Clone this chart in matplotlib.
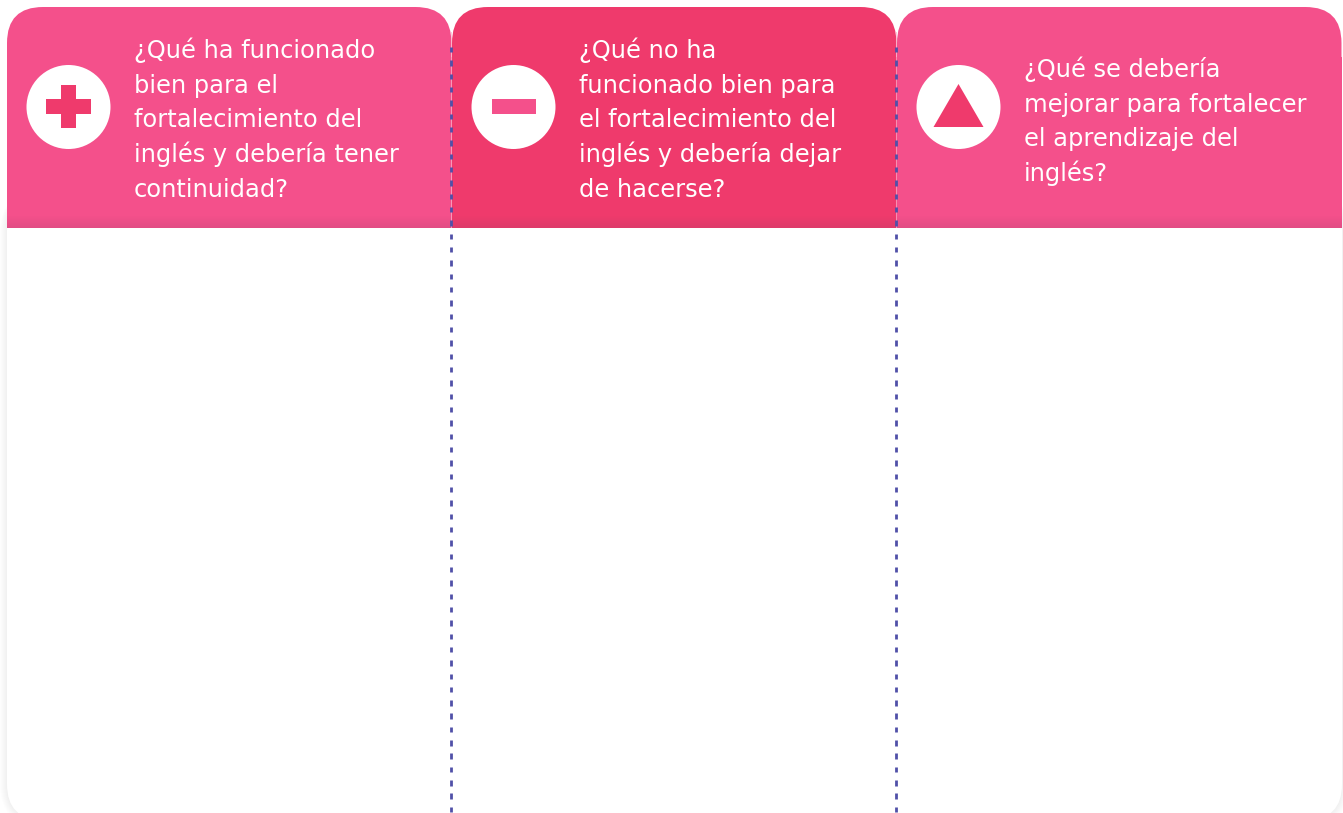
import matplotlib
matplotlib.use("Agg")
import matplotlib.pyplot as plt
import numpy as np
from matplotlib.patches import Circle, FancyBboxPatch, Polygon, Rectangle

# Header questions, one list per column, broken as in the picture
col1_lines = ["¿Qué ha funcionado", "bien para el", "fortalecimiento del",
              "inglés y debería tener", "continuidad?"]
col2_lines = ["¿Qué no ha", "funcionado bien para", "el fortalecimiento del",
              "inglés y debería dejar", "de hacerse?"]
col3_lines = ["¿Qué se debería", "mejorar para fortalecer",
              "el aprendizaje del", "inglés?"]
columns = [col1_lines, col2_lines, col3_lines]
icons = ["plus", "minus", "triangle"]

PINK = "#F4508B"
RED = "#EF3A6C"
DOTS = "#5050A8"
header_colors = [PINK, RED, PINK]

W, H = 1343, 813
col_left = [7, 452, 897]
col_w = 444.5
top, head_bottom = 7, 228
radius = 36
line_step = 34.7

plt.rcParams['font.family'] = ['DejaVu Sans']

fig = plt.figure(figsize=(W / 100, H / 100), dpi=100)
ax = fig.add_axes([0, 0, 1, 1])
ax.set_xlim(0, W)
ax.set_ylim(H, 0)
ax.axis('off')

# Soft shadow down the lower part of the card
for i in range(7, 0, -1):
    ax.add_patch(FancyBboxPatch((7 - i, 190), W - 8 + 2 * i, 630 + i,
                                boxstyle="round,pad=0,rounding_size=%d" % (radius + i),
                                fc="#000000", ec="none", alpha=0.009, zorder=1))

# White card, rounded at the bottom corners (its foot runs past the picture)
ax.add_patch(FancyBboxPatch((7, 100), W - 8, 720,
                            boxstyle="round,pad=0,rounding_size=%d" % radius,
                            fc="white", ec="none", zorder=2))

for x0, color, lines, icon in zip(col_left, header_colors, columns, icons):
    # Header shape: rounded top, square bottom
    ax.add_patch(FancyBboxPatch((x0, top), col_w, 100,
                                boxstyle="round,pad=0,rounding_size=%d" % radius,
                                fc=color, ec="none", zorder=3))
    ax.add_patch(Rectangle((x0, top + 50), col_w, head_bottom - top - 50,
                           fc=color, ec="none", zorder=3))
    # Darker fade at the foot of the header
    for j in range(13):
        ax.add_patch(Rectangle((x0, head_bottom - 13 + j), col_w, 1,
                               fc="#7A3A60", ec="none", alpha=0.012 * j, zorder=4))

    # Icon
    cx, cy = x0 + 61.5, 107
    ax.add_patch(Circle((cx, cy), 42, fc="white", ec="none", zorder=5))
    if icon == "plus":
        ax.add_patch(Rectangle((cx - 22.5, cy - 7.5), 45, 15, fc=RED, ec="none", zorder=6))
        ax.add_patch(Rectangle((cx - 7.5, cy - 22), 15, 43, fc=RED, ec="none", zorder=6))
    elif icon == "minus":
        ax.add_patch(Rectangle((cx - 22, cy - 7.5), 44, 15, fc=PINK, ec="none", zorder=6))
    else:
        ax.add_patch(Polygon([(cx - 25, cy + 20), (cx + 25, cy + 20), (cx, cy - 23)],
                             closed=True, fc=RED, ec="none", zorder=6))

    # Question text, vertically centred on the icon
    first = 58 if len(lines) == 5 else 77
    for k, line in enumerate(lines):
        ax.text(x0 + 127, first + k * line_step, line, color="white", fontsize=17.4,
                ha='left', va='baseline', zorder=7)

# Dotted dividers, with a thin light seam inside the header
for x in [451, 896]:
    ax.add_patch(Rectangle((x - 0.5, top + 25), 1, head_bottom - top - 25,
                           fc="#FBB6CE", ec="none", alpha=0.7, zorder=7))
    ys = np.arange(47, H, 13.33)
    ax.vlines([x] * len(ys), ys, ys + 5.5, color=DOTS, lw=2.0, zorder=8)

fig.savefig("out.png", dpi=100)
